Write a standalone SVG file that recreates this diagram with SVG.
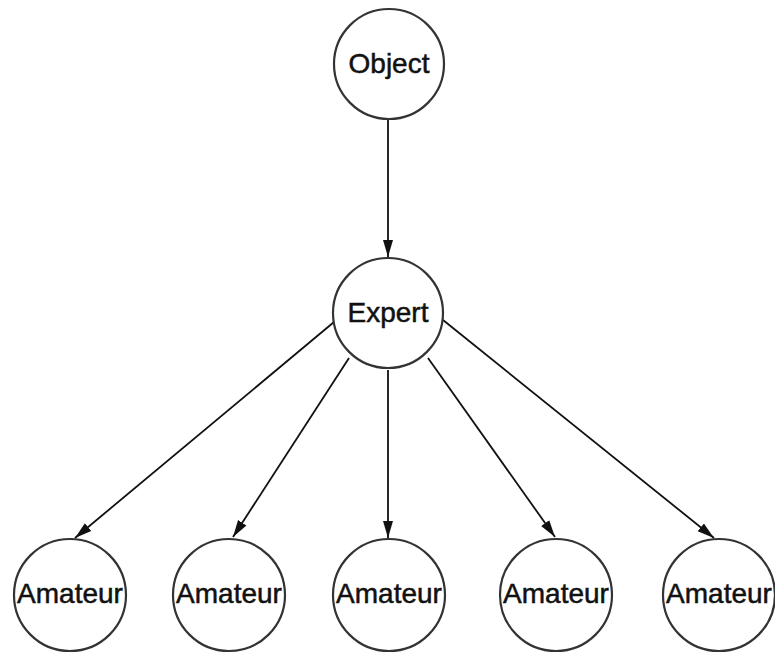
<svg xmlns="http://www.w3.org/2000/svg" width="775" height="653" viewBox="0 0 775 653">
<style>
.node circle{fill:#fff;stroke:#333;stroke-width:2.2}
.node text{font-family:"Liberation Sans",Arial,sans-serif;font-size:28px;fill:#111;stroke:#111;stroke-width:0.5;text-anchor:middle}
.edge{stroke:#111;stroke-width:1.8;fill:none;marker-end:url(#ah)}
</style>
<defs>
<marker id="ah" markerWidth="18" markerHeight="12" refX="17" refY="6" orient="auto" markerUnits="userSpaceOnUse">
<path d="M0,1 L17,6 L0,11 Z" fill="#111"/>
</marker>
</defs>
<rect width="775" height="653" fill="#fff"/>
<g id="connectors">
<line class="edge" x1="388" y1="120" x2="388" y2="257"/>
<line class="edge" x1="334" y1="322" x2="75" y2="538"/>
<line class="edge" x1="349" y1="358" x2="233" y2="537"/>
<line class="edge" x1="388" y1="370" x2="388" y2="538"/>
<line class="edge" x1="428" y1="358" x2="555" y2="537"/>
<line class="edge" x1="443" y1="320" x2="714" y2="538"/>
</g>
<g id="object" class="node"><circle cx="389" cy="64" r="55"/><text x="389" y="73">Object</text></g>
<g id="expert" class="node"><circle cx="388" cy="313" r="55"/><text x="388" y="322">Expert</text></g>
<g id="amateur1" class="node"><circle cx="70" cy="595" r="56"/><text x="70" y="603">Amateur</text></g>
<g id="amateur2" class="node"><circle cx="229" cy="595" r="56"/><text x="229" y="603">Amateur</text></g>
<g id="amateur3" class="node"><circle cx="389" cy="595" r="56"/><text x="389" y="603">Amateur</text></g>
<g id="amateur4" class="node"><circle cx="556" cy="595" r="56"/><text x="556" y="603">Amateur</text></g>
<g id="amateur5" class="node"><circle cx="719" cy="595" r="56"/><text x="719" y="603">Amateur</text></g>
</svg>
